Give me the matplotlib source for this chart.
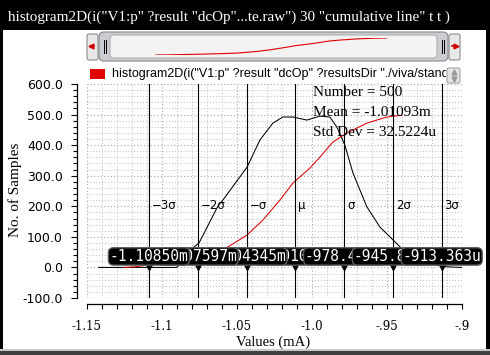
import numpy as np
import matplotlib
matplotlib.use("Agg")
import matplotlib.pyplot as plt
from matplotlib.patches import Rectangle, FancyBboxPatch
from matplotlib.ticker import MultipleLocator, FixedLocator, FixedFormatter

plt.rcParams['axes.unicode_minus'] = False

# histogram line (black) and cumulative line (red), values in mA / samples
black_x = [-1.142, -1.090, -1.0811, -1.0791, -1.0751, -1.0625, -1.0591, -1.0431, -1.0345,
           -1.0259, -1.0192, -1.0125, -1.0032, -0.9945, -0.9879, -0.9832, -0.9779, -0.9725,
           -0.9632, -0.9545, -0.9458, -0.9411, -0.935, -0.928, -0.920, -0.910, -0.900]
black_y = [0, 0, 47, 64, 80, 201, 221, 328, 417,
           472, 492, 492, 482, 495, 492, 459, 400, 309,
           198, 132, 90, 67, 45, 25, 10, 2, 0]
red_x = [-1.125, -1.118, -1.112, -1.100, -1.085, -1.070, -1.0591, -1.0431, -1.0325, -1.0211,
         -1.0125, -1.0012, -0.9945, -0.9859, -0.9765, -0.9632, -0.9499, -0.9398]
red_y = [0, 2, 6, 15, 28, 42, 57, 106, 155, 221,
         276, 325, 361, 410, 440, 472, 492, 498]

n_samples = 500
mean_ma = -1.01093
std_ma = 0.0325224
sigma_k = [-3, -2, -1, 0, 1, 2, 3]
sigma_labels = ["\u22123\u03c3", "\u22122\u03c3", "\u2212\u03c3", "\u03bc", "\u03c3", "2\u03c3", "3\u03c3"]

x_ticks = [-1.15, -1.1, -1.05, -1.0, -0.95, -0.9]
x_tick_labels = ["-1.15", "-1.1", "-1.05", "-1.0", "-.95", "-.9"]
y_ticks = [-100, 0, 100, 200, 300, 400, 500, 600]

title = 'histogram2D(i("V1:p" ?result "dcOp"...te.raw") 30 "cumulative line" t t )'
legend_text = 'histogram2D(i("V1:p" ?result "dcOp" ?resultsDir "./viva/standard.raw") 30 "cumulative line" t t )'

W, H = 490, 355
fig = plt.figure(figsize=(W / 100, H / 100), dpi=100)
fig.patch.set_facecolor('white')


def fbox(x0, y0, x1, y1):
    # pixel box (top-left origin) -> figure fraction rect
    return [x0 / W, 1 - y1 / H, (x1 - x0) / W, (y1 - y0) / H]


ax = fig.add_axes(fbox(86.7, 84, 461.7, 298))
ax.set_xlim(-1.15, -0.9)
ax.set_ylim(-100, 600)
for s in ['top', 'right']:
    ax.spines[s].set_visible(False)
ax.spines['left'].set_position(('outward', 6.8))
ax.spines['bottom'].set_position(('outward', 4.3))
ax.spines['left'].set_linewidth(0.9)
ax.spines['bottom'].set_linewidth(0.9)

ax.xaxis.set_major_locator(FixedLocator(x_ticks))
ax.xaxis.set_major_formatter(FixedFormatter(x_tick_labels))
ax.xaxis.set_minor_locator(MultipleLocator(0.01))
ax.yaxis.set_major_locator(FixedLocator(y_ticks))
ax.yaxis.set_major_formatter(FixedFormatter(["%.1f" % v for v in y_ticks]))
ax.yaxis.set_minor_locator(MultipleLocator(20))
ax.tick_params(axis='y', which='major', length=4.3, width=0.8, pad=6, labelsize=9)
ax.tick_params(axis='y', which='minor', length=2.9, width=0.8)
ax.tick_params(axis='x', which='both', length=3.6, width=0.8, pad=8)
for lb in ax.get_xticklabels():
    lb.set_fontfamily('DejaVu Serif')
    lb.set_fontsize(8.5)

ax.set_axisbelow(True)
ax.grid(which='minor', color='#bdbdbd', linestyle=(0, (1, 2)), linewidth=0.7)
ax.grid(which='major', color='#a8a8a8', linestyle=(0, (1, 2)), linewidth=0.8)

ax.plot(black_x, black_y, color='black', lw=0.75, zorder=3)
ax.plot(red_x, red_y, color='#e00000', lw=0.75, zorder=3)

# sigma markers
for k, lbl in zip(sigma_k, sigma_labels):
    xk = mean_ma + k * std_ma
    ax.axvline(xk, color='black', lw=0.8, zorder=4)
    ax.annotate(lbl, xy=(xk, 201), xytext=(3, 0), textcoords='offset pixels',
                ha='left', va='center', fontsize=8.5, fontfamily='DejaVu Sans', zorder=5)
    if abs(xk) >= 1:
        val = "%.5fm" % xk
    else:
        val = "%.3fu" % (xk * 1000)
    ax.plot([xk], [0], marker='v', color='black', ms=5, zorder=9, clip_on=False)
    ax.annotate(val, xy=(xk, 0), xytext=(0, 11), textcoords='offset pixels',
                ha='center', va='center', fontsize=10.5, fontfamily='DejaVu Sans Mono',
                color='white', zorder=10 + abs(k), annotation_clip=False,
                bbox=dict(boxstyle='round,pad=0.08,rounding_size=0.35', fc='black',
                          ec='#5a5a5a', lw=1.0))

# window chrome drawn in pixel coordinates
ov = fig.add_axes([0, 0, 1, 1], zorder=5)
ov.set_xlim(0, W)
ov.set_ylim(H, 0)
ov.axis('off')
ov.patch.set_alpha(0)

ov.add_patch(Rectangle((0, 0), W, 30, fc='black', ec='none'))
ov.text(8, 17, title, color='white', fontsize=10.9, fontfamily='Liberation Serif',
        va='center', ha='left')
ov.add_patch(Rectangle((0, 0), 3, H, fc='black', ec='none'))
ov.add_patch(Rectangle((486, 0), 4, H, fc='black', ec='none'))
ov.add_patch(Rectangle((0, 349), W, 1.5, fc='#c8c8c8', ec='none'))
ov.add_patch(Rectangle((0, 351), W, 4, fc='#404040', ec='none'))

# slider
ov.add_patch(FancyBboxPatch((87, 34), 11, 26, boxstyle='round,pad=0,rounding_size=2',
                            fc='#e8e8e8', ec='#8c8c8c', lw=0.8))
ov.add_patch(FancyBboxPatch((449, 34), 11, 26, boxstyle='round,pad=0,rounding_size=2',
                            fc='#e8e8e8', ec='#8c8c8c', lw=0.8))
ov.plot([91], [45.5], marker='<', color='#d00000', ms=3.5)
ov.plot([92, 94], [45.5, 45.5], color='#d00000', lw=1.2)
ov.plot([455.5], [45.5], marker='>', color='#d00000', ms=3.5)
ov.plot([452, 454], [45.5, 45.5], color='#d00000', lw=1.2)
ov.add_patch(FancyBboxPatch((99, 32), 349, 29, boxstyle='round,pad=0,rounding_size=5',
                            fc='#c9cdd1', ec='#8a8a8a', lw=0.8))
ov.add_patch(FancyBboxPatch((110, 35), 327, 23, boxstyle='round,pad=0,rounding_size=4',
                            fc='#f3f3f3', ec='#b0b0b0', lw=0.8))
for gx in [103.5, 105.5, 441.5, 443.5]:
    ov.plot([gx, gx], [40, 53], color='black', lw=0.7)

mini = fig.add_axes(fbox(155, 38, 387, 55), zorder=6)
mini.plot(red_x, red_y, color='#e00000', lw=0.8)
mini.set_xlim(min(red_x), max(red_x))
mini.set_ylim(min(red_y), max(red_y))
mini.axis('off')
mini.patch.set_alpha(0)

# legend row
ov.add_patch(Rectangle((90, 69), 15, 10, fc='#e00000', ec='none'))
ov.text(112, 74, legend_text, fontsize=9, fontfamily='Liberation Sans', va='center',
        ha='left', zorder=3)
ov.add_patch(Rectangle((446, 63), 40, 20.5, fc='white', ec='none', zorder=4))
ov.add_patch(FancyBboxPatch((447, 68), 13, 15, boxstyle='round,pad=0,rounding_size=1.5',
                            fc='#e4e4e4', ec='#9a9a9a', lw=0.7, zorder=5))
ov.plot([453.5], [72], marker='^', color='#9a9a9a', ms=3.5, zorder=6)
ov.plot([453.5], [79], marker='v', color='#9a9a9a', ms=3.5, zorder=6)

# statistics
ov.text(313, 93, "Number = %d" % n_samples, fontsize=11, fontfamily='Liberation Serif', va='center')
ov.text(313, 113, "Mean = %.5fm" % mean_ma, fontsize=11, fontfamily='Liberation Serif', va='center')
ov.text(313, 133, "Std Dev = %.4fu" % (std_ma * 1000), fontsize=11, fontfamily='Liberation Serif',
        va='center')

ov.text(15, 190, "No. of Samples", rotation=90, fontsize=11, fontfamily='Liberation Serif',
        ha='center', va='center')
ov.text(273, 342, "Values (mA)", fontsize=10.5, fontfamily='Liberation Serif',
        ha='center', va='center')

fig.savefig("out.png", dpi=100)
